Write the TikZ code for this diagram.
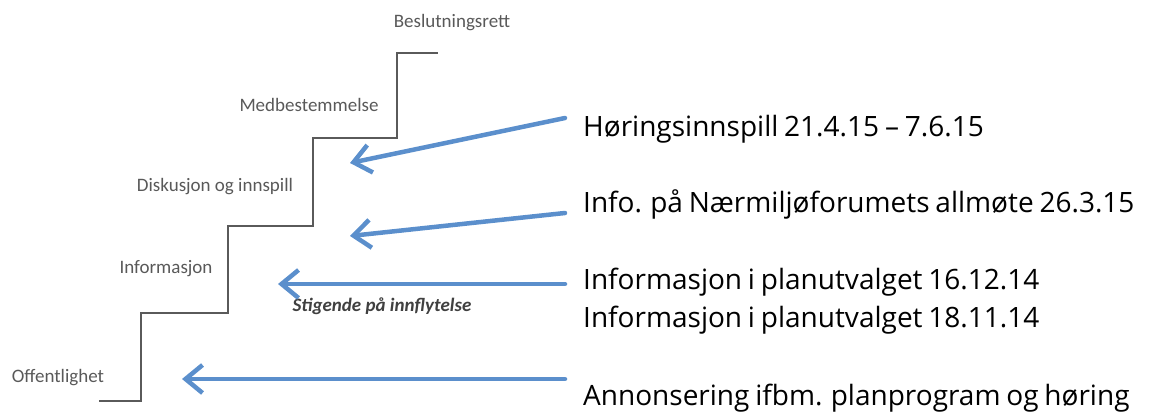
\documentclass[tikz,border=0pt]{standalone}
\usepackage{fontspec}
\setmainfont[WordSpace=0.8]{Open Sans}
\newfontfamily\lblfont{Carlito}
\usetikzlibrary{arrows.meta}
\definecolor{arrowblue}{HTML}{5B8FCC}
\definecolor{stairgray}{HTML}{5A5A5A}
\definecolor{lblgray}{HTML}{595959}
\tikzset{
  stair/.style={draw=stairgray, line width=1.6pt},
  lbl/.style={font=\lblfont\fontsize{19}{22}\selectfont, text=lblgray, inner sep=0pt},
  rtext/.style={font=\fontsize{28}{33}\selectfont, text=black, inner xsep=18pt, inner ysep=0pt, anchor=base west},
  blue arrow/.style={draw=arrowblue, line width=4.5pt, -{Straight Barb[length=17pt,width=28pt]}, line cap=round}
}
\begin{document}
\begin{tikzpicture}[x=1pt,y=-1pt]
\useasboundingbox (0,0) rectangle (1168,412);
% staircase
\coordinate (s0) at (99,401);
\coordinate (s9) at (438,53);
\draw[stair] (s0) -- (141,401) -- (141,313) -- (228,313) -- (228,226) -- (313,226) -- (313,138) -- (397,138) -- (397,53) -- (s9);
% left labels
\node[lbl] (l1) at (452,23) {Beslutningsrett};
\node[lbl] (l2) at (309,105) {Medbestemmelse};
\node[lbl] (l3) at (215,187) {Diskusjon og innspill};
\node[lbl] (l4) at (166,269) {Informasjon};
\node[lbl] (l5) at (58,378) {Offentlighet};
\node[lbl, font=\lblfont\bfseries\itshape\fontsize{19}{22}\selectfont, text=black!75] (st) at (382,306) {Stigende på innflytelse};
% right texts (placed on their baselines)
\node[rtext] (h1) at (565,136) {Høringsinnspill 21.4.15 – 7.6.15};
\node[rtext] (h2) at (565,212) {Info. på Nærmiljøforumets allmøte 26.3.15};
\node[rtext] (h3) at (565,289) {Informasjon i planutvalget 16.12.14};
\node[rtext] (h4) at (565,327) {Informasjon i planutvalget 18.11.14};
\node[rtext] (h5) at (565,405) {Annonsering ifbm. planprogram og høring};
% arrow tips
\coordinate (t1) at (350,163);
\coordinate (t2) at (350,236);
\coordinate (t3) at (278,284);
\coordinate (t5) at (182,379);
\draw[blue arrow] ([yshift=18pt]h1.base west) -- (t1);
\draw[blue arrow] ([yshift=-1pt]h2.base west) -- (t2);
\draw[blue arrow] ([yshift=5pt]h3.base west) -- (t3);
\draw[blue arrow] ([yshift=26pt]h5.base west) -- (t5);
\end{tikzpicture}
\end{document}
